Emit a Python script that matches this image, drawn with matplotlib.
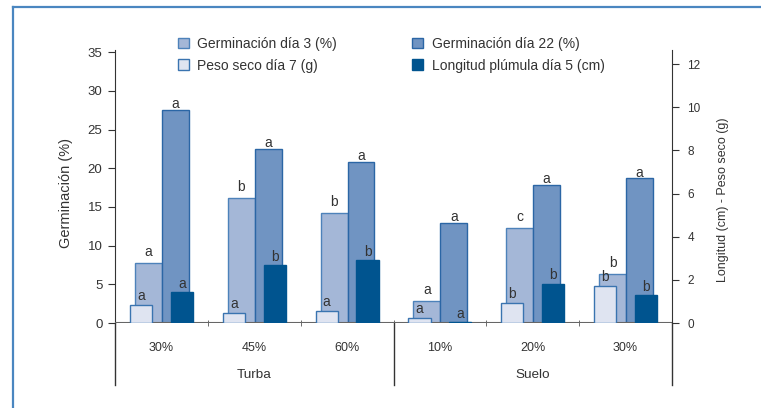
import matplotlib.pyplot as plt
from matplotlib.lines import Line2D
import numpy as np

plt.rcParams['font.family'] = ['Liberation Sans', 'DejaVu Sans']

# Data.
categories = ['30%', '45%', '60%', '10%', '20%', '30%']
groups = ['Turba', 'Suelo']
germ_d3 = [7.8, 16.2, 14.2, 2.9, 12.3, 6.4]
germ_d22 = [27.5, 22.5, 20.8, 12.9, 17.9, 18.7]
peso_d7 = [0.83, 0.46, 0.56, 0.23, 0.93, 1.71]
long_d5 = [1.43, 2.68, 2.92, 0.05, 1.82, 1.3]
let_d3 = ['a', 'b', 'b', 'a', 'c', 'b']
let_d22 = ['a', 'a', 'a', 'a', 'a', 'a']
let_peso = ['a', 'a', 'a', 'a', 'b', 'b']
let_long = ['a', 'b', 'b', 'a', 'b', 'b']

c_d3, e_d3 = '#a4b7d7', '#4d82ba'
c_d22, e_d22 = '#7094c2', '#2b66a5'
c_peso, e_peso = '#dfe4f1', '#3a74b0'
c_long = '#00548f'
txt = '#333333'

fig = plt.figure(figsize=(7.61, 4.08), dpi=100)
ax = fig.add_axes([115 / 761, 1 - 323 / 408, 557 / 761, 273 / 408])
ax2 = ax.twinx()

x = np.arange(len(categories))
wg, wn = 0.29, 0.24

ax.bar(x - 0.14, germ_d3, wg, color=c_d3, edgecolor=e_d3, linewidth=1, zorder=2)
ax.bar(x + 0.15, germ_d22, wg, color=c_d22, edgecolor=e_d22, linewidth=1, zorder=2)
ax2.bar(x - 0.22, peso_d7, wn, color=c_peso, edgecolor=e_peso, linewidth=1, zorder=2)
ax2.bar(x + 0.22, long_d5, wn, color=c_long, edgecolor=c_long, linewidth=1, zorder=2)

lab_fs = 10
for i in range(len(categories)):
    ax.text(x[i] - 0.14, germ_d3[i] + 0.5, let_d3[i], ha='center', va='bottom', fontsize=lab_fs, color=txt)
    ax.text(x[i] + 0.15, germ_d22[i] - 0.15, let_d22[i], ha='center', va='bottom', fontsize=lab_fs, color=txt)
    ax2.text(x[i] - 0.22, peso_d7[i] + 0.08, let_peso[i], ha='center', va='bottom', fontsize=lab_fs, color=txt)
    ax2.text(x[i] + 0.22, long_d5[i] + 0.06, let_long[i], ha='center', va='bottom', fontsize=lab_fs, color=txt)

ax.set_xlim(-0.5, 5.5)
ax.set_ylim(0, 35.3)
ax2.set_ylim(0, 12.65)
ax.set_yticks(range(0, 36, 5))
ax2.set_yticks(range(0, 13, 2))

ax.set_xticks(x)
ax.set_xticklabels(categories, fontsize=9, color=txt)
ax.tick_params(axis='x', length=0, pad=14)
ax.set_xticks(np.arange(0.5, 5.5, 1), minor=True)
ax.tick_params(axis='x', which='minor', length=5, direction='inout', color='#555555')
ax.tick_params(axis='y', labelsize=9.5, labelcolor=txt, length=5, color='#333333', pad=4)
ax2.tick_params(axis='y', labelsize=8.5, labelcolor=txt, length=5, color='#333333', pad=6)

for a in (ax, ax2):
    a.spines['top'].set_visible(False)
    a.spines['bottom'].set_visible(False)
ax2.spines['left'].set_visible(False)
ax.spines['right'].set_visible(False)
ax.spines['left'].set_color('#333333')
ax2.spines['right'].set_color('#333333')

# x axis line and the lines below it
ax.axhline(0, color='#666666', linewidth=1.5, zorder=3)
low = -62 / 273
for xv in (-0.5, 2.5, 5.5):
    ax.plot([xv, xv], [0, low], transform=ax.get_xaxis_transform(), color='#333333',
            linewidth=1, clip_on=False)
ax.text(1, -52 / 273, groups[0], transform=ax.get_xaxis_transform(), ha='center',
        va='center', fontsize=9.7, color=txt)
ax.text(4, -52 / 273, groups[1], transform=ax.get_xaxis_transform(), ha='center',
        va='center', fontsize=9.7, color=txt)

ax.set_ylabel('Germinación (%)', fontsize=10.5, color=txt)
ax.yaxis.set_label_coords(-42 / 557, 130 / 273)
ax2.set_ylabel('Longitud (cm) - Peso seco (g)', fontsize=9, color=txt)
ax2.yaxis.set_label_coords(1 + 45 / 557, 123 / 273)

# legend
handles = [
    plt.Rectangle((0, 0), 1, 1, facecolor=c_d3, edgecolor=e_d3),
    plt.Rectangle((0, 0), 1, 1, facecolor=c_peso, edgecolor=e_peso),
    plt.Rectangle((0, 0), 1, 1, facecolor=c_d22, edgecolor=e_d22),
    plt.Rectangle((0, 0), 1, 1, facecolor=c_long, edgecolor=c_long),
]
labels = ['Germinación día 3 (%)', 'Peso seco día 7 (g)',
          'Germinación día 22 (%)', 'Longitud plúmula día 5 (cm)']
leg = fig.legend(handles, labels, ncol=2, loc='upper left', bbox_to_anchor=(171 / 761, 1 - 30 / 408),
                 frameon=False, fontsize=10, handlelength=0.8, handleheight=0.8,
                 handletextpad=0.6, columnspacing=5.4, labelspacing=0.55, borderpad=0)
for t in leg.get_texts():
    t.set_color(txt)

# outer frame (left and top edges)
fig.add_artist(Line2D([13 / 761, 13 / 761], [0, 1 - 7 / 408], color='#4a86c0', linewidth=1.6))
fig.add_artist(Line2D([13 / 761, 1], [1 - 7 / 408, 1 - 7 / 408], color='#4a86c0', linewidth=1.6))

fig.savefig('out.png', dpi=100)
